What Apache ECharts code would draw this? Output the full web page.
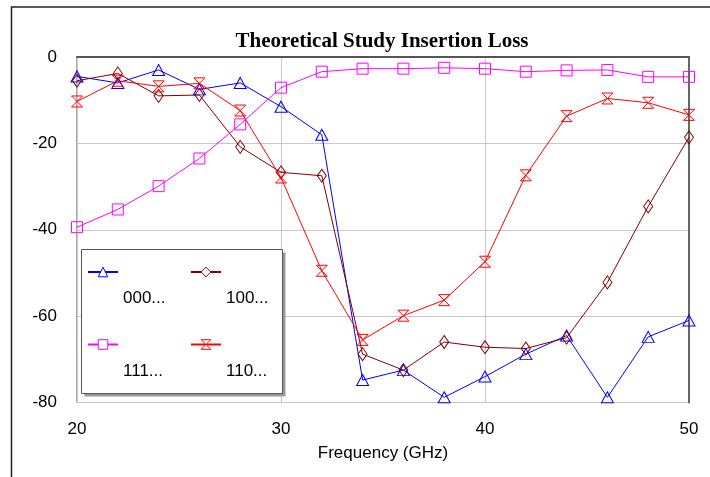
<!DOCTYPE html>
<html>
<head>
<meta charset="utf-8">
<script src="https://cdn.jsdelivr.net/npm/echarts@6/dist/echarts.min.js"></script>
<style>html,body{margin:0;padding:0;background:#fff}#c{width:710px;height:477px}</style>
</head>
<body>
<div id="c"></div>
<script>
const freq = [20,22,24,26,28,30,32,34,36,38,40,42,44,46,48,50];
const s000 = [-4.5,-6,-3,-7.5,-6,-11.5,-18,-74.8,-72.5,-78.8,-74,-68.8,-64.5,-78.8,-64.8,-61];
const s100 = [-5.5,-3.8,-9,-8.8,-20.8,-26.7,-27.5,-68.8,-72.5,-66,-67.2,-67.5,-65,-52.2,-34.6,-18.6];
const s111 = [-39.4,-35.3,-29.9,-23.5,-15.6,-7.1,-3.4,-2.7,-2.7,-2.5,-2.7,-3.4,-3.1,-3.0,-4.6,-4.6];
const s110 = [-10.3,-5.5,-6.8,-6.1,-12.4,-27.9,-49.5,-65.5,-59.9,-56.3,-47.4,-27.4,-13.7,-9.6,-10.6,-13.4];
const names = ['000...','100...','111...','110...'];
const colors = ['#0000ff','#800000','#ff00ff','#ff0000'];
const xTicks = [20,30,40,50];
const yTicks = [-80,-60,-40,-20,0];

const hourglass = 'path://M0,0 L10,0 L0,10 L10,10 Z';
const pairs = arr => freq.map((f,i)=>[f,arr[i]]);
function mk(name, arr, color, symbol, size){
  return {
    name, type:'line', data: pairs(arr), symbol, symbolSize: size,
    showAllSymbol:true, animation:false,
    lineStyle:{color, width:1},
    itemStyle:{color:'rgba(255,255,255,0)', borderColor:color, borderWidth:1},
    emphasis:{disabled:true}
  };
}
const font = '"Liberation Sans", Arial, sans-serif';
function leg(i, left, top){
  return {
    data:[names[i]], left, top, padding:0, itemWidth:30, itemHeight:12, selectedMode:false,
    itemStyle:{ color:'#fff', borderColor:colors[i], borderWidth:1 },
    formatter: n => '{t|' + n + '}',
    textStyle:{ rich:{ t:{ fontSize:17, fontFamily:font, color:'#000', lineHeight:20, padding:[53,0,0,0] } } },
    z:5
  };
}
const chart = echarts.init(document.getElementById('c'));
chart.setOption({
  animation:false,
  title:{ text:'Theoretical Study Insertion Loss', left:377, top:26, textAlign:'center',
    textStyle:{ fontFamily:'"Liberation Serif", "Times New Roman", serif', fontWeight:'bold', fontSize:21, color:'#000' } },
  grid:{ left:77, right:21, top:57, bottom:74.5, show:true, borderColor:'#555', borderWidth:1, backgroundColor:'#fff' },
  xAxis:{ type:'value', min:xTicks[0], max:xTicks[xTicks.length-1], interval:10,
    name:'Frequency (GHz)', nameLocation:'middle', nameGap:42,
    nameTextStyle:{ fontSize:17, fontFamily:font, color:'#000' },
    axisLine:{ show:true, lineStyle:{ color:'#555', width:2 } },
    axisTick:{ show:false },
    axisLabel:{ fontSize:17, fontFamily:font, color:'#000', margin:18 },
    splitLine:{ show:true, lineStyle:{ color:'#c8c8c8', width:1 } } },
  yAxis:[{ type:'value', min:yTicks[0], max:yTicks[yTicks.length-1], interval:20,
    axisLine:{ show:false }, axisTick:{ show:false },
    axisLabel:{ fontSize:17, fontFamily:font, color:'#000', margin:20, padding:[5,0,0,0] },
    splitLine:{ show:true, lineStyle:{ color:'#c8c8c8', width:1 } } },
   { type:'value', position:'right', min:-80, max:0, interval:20,
    axisLine:{ show:true, lineStyle:{ color:'#666', width:2 } }, axisTick:{show:false}, axisLabel:{show:false}, splitLine:{show:false} }],
  legend:[ leg(0, 87, 237), leg(1, 190, 237), leg(2, 87, 309.5), leg(3, 190, 309.5) ],
  graphic:[
    { type:'polyline', shape:{ points:[[11.5,477],[11.5,7],[710,7]] }, style:{ stroke:'#222', lineWidth:1.5, fill:null }, z:10 },
    { type:'rect', shape:{ x:84.5, y:252.5, width:201, height:144 }, style:{ fill:'#999' }, z:3 },
    { type:'rect', shape:{ x:81.5, y:249.5, width:201, height:144 },
      style:{ fill:'#fff', stroke:'#555', lineWidth:1 }, z:3 }
  ],
  series:[
    mk(names[0], s000, colors[0], 'triangle', [12,11]),
    mk(names[1], s100, colors[1], 'diamond', [9,13]),
    mk(names[2], s111, colors[2], 'rect', [11,11]),
    mk(names[3], s110, colors[3], hourglass, [11,11])
  ]
});
</script>
</body>
</html>
